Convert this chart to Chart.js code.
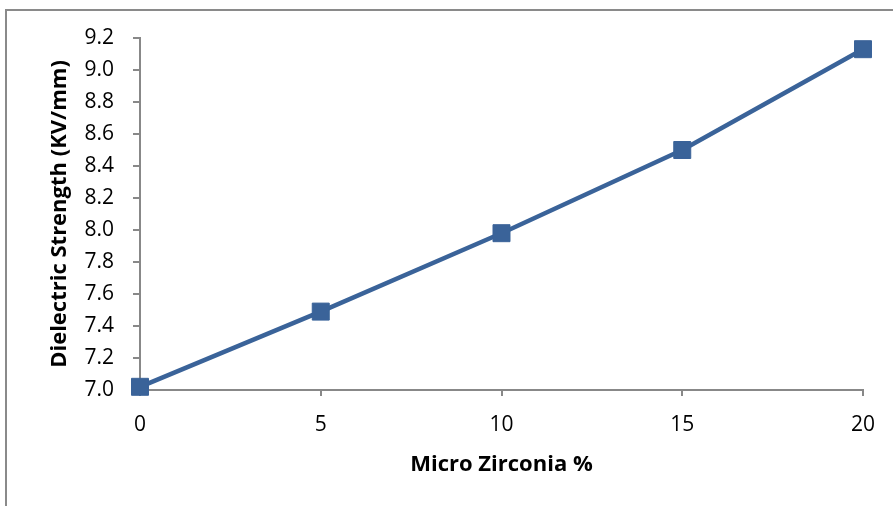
<!DOCTYPE html>
<html><head><meta charset="utf-8">
<script src="https://cdn.jsdelivr.net/npm/chart.js@4"></script>
<style>
html,body{margin:0;padding:0;background:#fff;overflow:hidden}
#wrap{position:absolute;left:0;top:0;width:893px;height:506px}
#frame{position:absolute;left:5px;top:9px;width:1000px;height:600px;border-left:2px solid #8a8a8a;border-top:2px solid #8a8a8a;box-sizing:border-box}
canvas{position:absolute;left:0;top:0}
</style></head>
<body>
<div id="wrap"><div id="frame"></div><canvas id="c" width="893" height="506"></canvas></div>
<script>
const zirconia = [0, 5, 10, 15, 20];
const strength = [7.02, 7.49, 7.98, 8.50, 9.13];
const xTitle = "Micro Zirconia %";
const yTitle = "Dielectric Strength (KV/mm)";

const FONT = "'Open Sans', Lato, sans-serif";
const blue = '#3A6399';
new Chart(document.getElementById('c'), {
  type: 'scatter',
  data: { datasets: [{
    data: zirconia.map((x, i) => ({x, y: strength[i]})),
    showLine: true, borderColor: blue, borderWidth: 4.5,
    pointStyle: 'rect', pointRadius: 12, pointHoverRadius: 12,
    pointBackgroundColor: blue, pointBorderColor: blue, pointBorderWidth: 1,
    clip: false
  }]},
  options: {
    responsive: false, animation: false, devicePixelRatio: 1,
    layout: { padding: { top: 38, right: 30, bottom: 0, left: 0 } },
    plugins: { legend: { display: false }, tooltip: { enabled: false } },
    scales: {
      x: {
        type: 'linear', min: 0, max: 20,
        afterFit: s => { s.height = 116; },
        ticks: { stepSize: 5, color: '#000', padding: 16, font: { family: FONT, size: 21 } },
        grid: { display: true, drawOnChartArea: false, tickLength: 6, color: '#888', lineWidth: 2 },
        border: { color: '#888', width: 2 },
        title: { display: true, text: xTitle, color: '#000', padding: { top: 0, bottom: 28 }, font: { family: FONT, size: 22, weight: 'bold' } }
      },
      y: {
        min: 7.0, max: 9.2,
        afterFit: s => { s.width = 140; },
        ticks: { stepSize: 0.2, color: '#000', padding: 19, font: { family: FONT, size: 21 },
          callback: v => v.toFixed(1) },
        grid: { display: true, drawOnChartArea: false, tickLength: 7, color: '#888', lineWidth: 2 },
        border: { color: '#888', width: 2 },
        title: { display: true, text: yTitle, color: '#000', padding: { top: 47, bottom: 0 }, font: { family: FONT, size: 22, weight: 'bold' } }
      }
    }
  }
});
</script>
</body></html>
